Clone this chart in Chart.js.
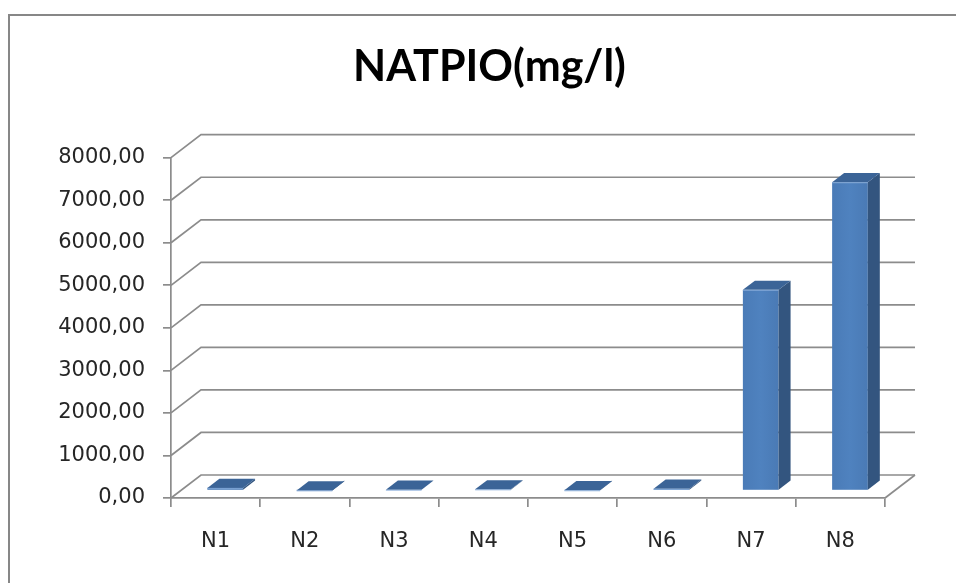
<!DOCTYPE html>
<html>
<head>
<meta charset="utf-8">
<script src="https://cdn.jsdelivr.net/npm/chart.js@4/dist/chart.umd.min.js"></script>
<style>
  html, body { margin: 0; padding: 0; background: #ffffff; }
  canvas { display: block; }
</style>
</head>
<body>
<canvas id="c" width="956" height="583"></canvas>
<script>
// ---- data ----
const chartTitle = 'NATPIO(mg/l)';
const categories = ['N1', 'N2', 'N3', 'N4', 'N5', 'N6', 'N7', 'N8'];
const values = [65, 5, 20, 30, 8, 45, 4720, 7250];
const yMin = 0;
const yMax = 8000;
const yStep = 1000;

function fmtTick(v) { return Number(v).toFixed(2).replace('.', ','); }

// ---- 3D geometry (styling) ----
const DEPTH_X = 30, DEPTH_Y = 23;   // wall depth
const BAR_FRONT = 0.32, BAR_DEPTH = 0.40; // fraction of depth
const GRID = '#8c8c8c';

const threeD = {
  id: 'threeD',
  beforeDraw(chart) {
    const ctx = chart.ctx;
    ctx.save();
    ctx.fillStyle = '#ffffff';
    ctx.fillRect(0, 0, chart.width, chart.height);
    ctx.strokeStyle = '#878787';
    ctx.lineWidth = 2;
    ctx.strokeRect(9, 15, chart.width + 20, chart.height + 20);
    // title
    ctx.fillStyle = '#000000';
    ctx.font = 'bold 43px Lato';
    ctx.textAlign = 'center';
    ctx.textBaseline = 'alphabetic';
    ctx.fillText(chartTitle, 489.5, 80.5);
    ctx.restore();
  },
  beforeDatasetsDraw(chart) {
    const ctx = chart.ctx;
    const ys = chart.scales.y, xs = chart.scales.x;
    const L = xs.left, R = xs.right;
    ctx.save();
    ctx.strokeStyle = GRID;
    ctx.lineWidth = 1.7;
    ctx.lineJoin = 'miter';
    ys.ticks.forEach(t => {
      const py = ys.getPixelForValue(t.value);
      ctx.beginPath();
      ctx.moveTo(L, py);
      ctx.lineTo(L + DEPTH_X, py - DEPTH_Y);
      ctx.lineTo(R + DEPTH_X, py - DEPTH_Y);
      ctx.stroke();
    });
    // floor right edge
    const p0 = ys.getPixelForValue(0);
    ctx.beginPath();
    ctx.moveTo(R, p0);
    ctx.lineTo(R + DEPTH_X, p0 - DEPTH_Y);
    ctx.stroke();
    ctx.restore();
  },
  afterDatasetsDraw(chart) {
    const ctx = chart.ctx;
    const meta = chart.getDatasetMeta(0);
    const ox = DEPTH_X * BAR_FRONT, oy = DEPTH_Y * BAR_FRONT;
    const sx = DEPTH_X * BAR_DEPTH, sy = DEPTH_Y * BAR_DEPTH;
    ctx.save();
    meta.data.forEach(el => {
      const p = el.getProps(['x', 'y', 'base', 'width'], true);
      const x0 = p.x - p.width / 2 + ox, x1 = p.x + p.width / 2 + ox;
      const yt = p.y - oy, yb = p.base - oy;
      // front
      const g = ctx.createLinearGradient(x0, 0, x1, 0);
      g.addColorStop(0, '#4a7bb7');
      g.addColorStop(0.5, '#4f82bf');
      g.addColorStop(1, '#4a7ab5');
      ctx.fillStyle = g;
      ctx.fillRect(x0, yt, x1 - x0, yb - yt);
      // side
      ctx.fillStyle = '#33557f';
      ctx.beginPath();
      ctx.moveTo(x1, yt); ctx.lineTo(x1 + sx, yt - sy);
      ctx.lineTo(x1 + sx, yb - sy); ctx.lineTo(x1, yb);
      ctx.closePath(); ctx.fill();
      // top
      ctx.fillStyle = '#3b6497';
      ctx.beginPath();
      ctx.moveTo(x0, yt); ctx.lineTo(x1, yt);
      ctx.lineTo(x1 + sx, yt - sy); ctx.lineTo(x0 + sx, yt - sy);
      ctx.closePath(); ctx.fill();
      // light edge at front-top
      ctx.strokeStyle = 'rgba(140,175,220,0.8)';
      ctx.lineWidth = 1;
      ctx.beginPath();
      ctx.moveTo(x0, yt + 0.5); ctx.lineTo(x1, yt + 0.5);
      ctx.stroke();
    });
    ctx.restore();
  }
};

new Chart(document.getElementById('c'), {
  type: 'bar',
  data: {
    labels: categories,
    datasets: [{
      data: values,
      backgroundColor: 'rgba(0,0,0,0)',
      borderWidth: 0,
      categoryPercentage: 1.0,
      barPercentage: 0.40
    }]
  },
  options: {
    responsive: false,
    animation: false,
    devicePixelRatio: 1,
    layout: { padding: { left: 0, right: 71, top: 157.7, bottom: 0 } },
    plugins: {
      legend: { display: false },
      tooltip: { enabled: false },
      title: { display: false }
    },
    scales: {
      x: {
        offset: true,
        afterFit(s) { s.height = 85; },
        grid: {
          offset: true,
          drawOnChartArea: false,
          drawTicks: true,
          tickLength: 9,
          color: GRID,
          lineWidth: 1.7
        },
        border: { display: true, color: GRID, width: 1.7 },
        ticks: {
          color: '#262626',
          padding: 22,
          font: { family: 'DejaVu Sans', size: 21 }
        }
      },
      y: {
        min: yMin,
        max: yMax,
        afterFit(s) { s.width = 171; },
        grid: {
          drawOnChartArea: false,
          drawTicks: true,
          tickLength: 8,
          color: GRID,
          lineWidth: 1.7
        },
        border: { display: true, color: GRID, width: 1.7 },
        ticks: {
          stepSize: yStep,
          color: '#262626',
          padding: 18,
          font: { family: 'DejaVu Sans', size: 21 },
          callback: v => fmtTick(v)
        }
      }
    }
  },
  plugins: [threeD]
});
</script>
</body>
</html>
